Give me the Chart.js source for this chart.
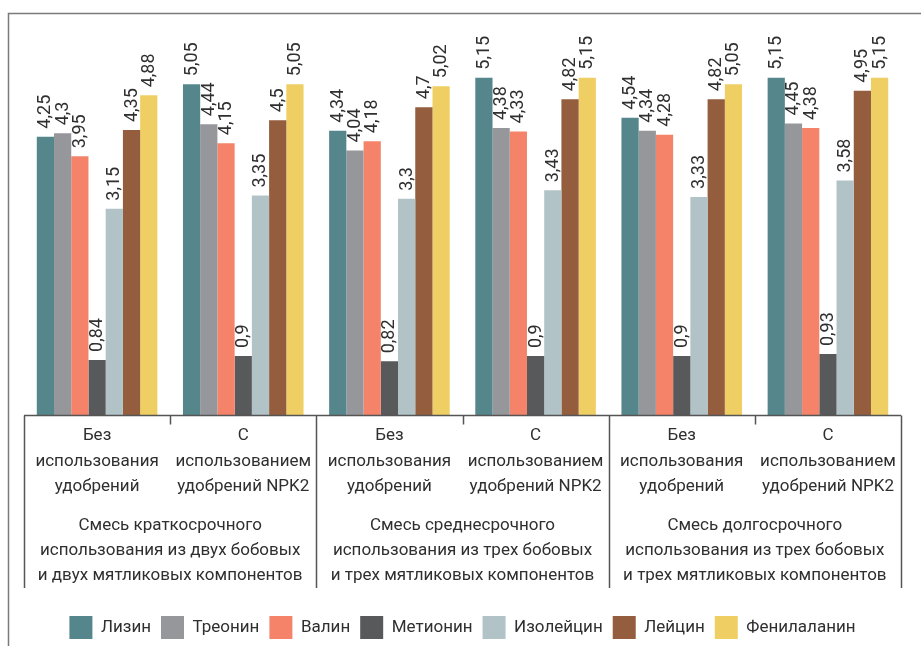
<!DOCTYPE html>
<html lang="ru">
<head>
<meta charset="utf-8">
<title>Аминокислотный состав</title>
<script src="https://cdn.jsdelivr.net/npm/chart.js@4.4.1/dist/chart.umd.min.js"></script>
<style>
  html, body { margin: 0; padding: 0; background: #ffffff; }
  #wrap { width: 921px; height: 646px; position: relative; }
  canvas { display: block; }
</style>
</head>
<body>
<div id="wrap"><canvas id="chart" width="921" height="646"></canvas></div>
<script>
// Sub-categories (fertilizer treatment) per mixture
const categories = [
  ['Без', 'использования', 'удобрений'],
  ['С', 'использованием', 'удобрений NPK2'],
  ['Без', 'использования', 'удобрений'],
  ['С', 'использованием', 'удобрений NPK2'],
  ['Без', 'использования', 'удобрений'],
  ['С', 'использованием', 'удобрений NPK2']
];

// Grass mixtures (outer category level)
const groups = [
  ['Смесь краткосрочного', 'использования из двух бобовых', 'и двух мятликовых компонентов'],
  ['Смесь среднесрочного', 'использования из трех бобовых', 'и трех мятликовых компонентов'],
  ['Смесь долгосрочного', 'использования из трех бобовых', 'и трех мятликовых компонентов']
];

const seriesNames = ['Лизин', 'Треонин', 'Валин', 'Метионин', 'Изолейцин', 'Лейцин', 'Фенилаланин'];

const lysine        = [4.25, 5.05, 4.34, 5.15, 4.54, 5.15];
const threonine     = [4.3, 4.44, 4.04, 4.38, 4.34, 4.45];
const valine        = [3.95, 4.15, 4.18, 4.33, 4.28, 4.38];
const methionine    = [0.84, 0.9, 0.82, 0.9, 0.9, 0.93];
const isoleucine    = [3.15, 3.35, 3.3, 3.43, 3.33, 3.58];
const leucine       = [4.35, 4.5, 4.7, 4.82, 4.82, 4.95];
const phenylalanine = [4.88, 5.05, 5.02, 5.15, 5.05, 5.15];

const seriesValues = [lysine, threonine, valine, methionine, isoleucine, leucine, phenylalanine];
const seriesColors = ['#55868b', '#96979b', '#f4836a', '#58595b', '#b2c3c7', '#935d3e', '#efcf63'];

const FONT = 'Roboto, "Open Sans", "DejaVu Sans", sans-serif';
const TEXT = '#2f2f2f';
const LINE = '#555555';

// Outer frame of the figure (left and top rules)
const framePlugin = {
  id: 'frame',
  beforeDraw(chart) {
    const ctx = chart.ctx;
    ctx.save();
    ctx.strokeStyle = '#7a7a7a';
    ctx.lineWidth = 1.5;
    ctx.beginPath();
    ctx.moveTo(8.5, chart.height);
    ctx.lineTo(8.5, 13.5);
    ctx.lineTo(chart.width, 13.5);
    ctx.stroke();
    ctx.restore();
  }
};

// Axis line with table-like separators between the categories and mixtures
const tablePlugin = {
  id: 'tableLines',
  afterDraw(chart) {
    const x = chart.scales.x;
    const x2 = chart.scales.x2;
    const ctx = chart.ctx;
    const n = x.getLabels().length;
    const w = (x.right - x.left) / n;
    const top = x.top + 0.5;
    const bottom = x2.bottom - 18;
    ctx.save();
    ctx.strokeStyle = LINE;
    ctx.lineWidth = 1.5;
    ctx.beginPath();
    ctx.moveTo(x.left, top);
    ctx.lineTo(x.right, top);
    for (let k = 0; k <= n; k++) {
      const px = Math.round(x.left + k * w) + 0.5;
      ctx.moveTo(px, top);
      ctx.lineTo(px, k % 2 === 0 ? bottom : top + 9);
    }
    ctx.stroke();
    ctx.restore();
  }
};

// Vertical value labels above each bar
const valueLabels = {
  id: 'valueLabels',
  afterDatasetsDraw(chart) {
    const ctx = chart.ctx;
    ctx.save();
    ctx.fillStyle = TEXT;
    ctx.font = '18px ' + FONT;
    ctx.textAlign = 'left';
    ctx.textBaseline = 'middle';
    chart.data.datasets.forEach((ds, di) => {
      const meta = chart.getDatasetMeta(di);
      meta.data.forEach((bar, i) => {
        const txt = String(ds.data[i]).replace('.', ',');
        ctx.save();
        ctx.translate(bar.x + 0.5, bar.y - 8);
        ctx.rotate(-Math.PI / 2);
        ctx.fillText(txt, 0, 0);
        ctx.restore();
      });
    });
    ctx.restore();
  }
};

new Chart(document.getElementById('chart'), {
  type: 'bar',
  data: {
    labels: categories,
    datasets: seriesNames.map((name, i) => ({
      label: name,
      data: seriesValues[i],
      backgroundColor: seriesColors[i],
      borderWidth: 0,
      categoryPercentage: 0.825,
      barPercentage: 1
    }))
  },
  options: {
    responsive: false,
    devicePixelRatio: 1,
    animation: false,
    layout: { padding: { top: 22, left: 24, right: 20, bottom: -3 } },
    plugins: {
      legend: {
        position: 'bottom',
        labels: {
          boxWidth: 23,
          boxHeight: 23,
          padding: 10,
          color: TEXT,
          font: { family: FONT, size: 17 }
        }
      },
      tooltip: { enabled: false },
      title: { display: false }
    },
    scales: {
      y: {
        display: false,
        min: 0,
        max: 6
      },
      x: {
        position: 'bottom',
        grid: { display: false, drawTicks: false },
        border: { display: false },
        ticks: {
          autoSkip: false,
          maxRotation: 0,
          minRotation: 0,
          padding: 8,
          color: TEXT,
          font: { family: FONT, size: 17, lineHeight: 1.5 }
        },
        afterFit(scale) { scale.height = 84; }
      },
      x2: {
        type: 'category',
        position: 'bottom',
        labels: groups,
        offset: true,
        grid: { display: false, drawTicks: false },
        border: { display: false },
        ticks: {
          autoSkip: false,
          maxRotation: 0,
          minRotation: 0,
          padding: 14,
          color: TEXT,
          font: { family: FONT, size: 17, lineHeight: 1.47 }
        },
        afterFit(scale) { scale.height = 107; }
      }
    }
  },
  plugins: [framePlugin, tablePlugin, valueLabels]
});
</script>
</body>
</html>
